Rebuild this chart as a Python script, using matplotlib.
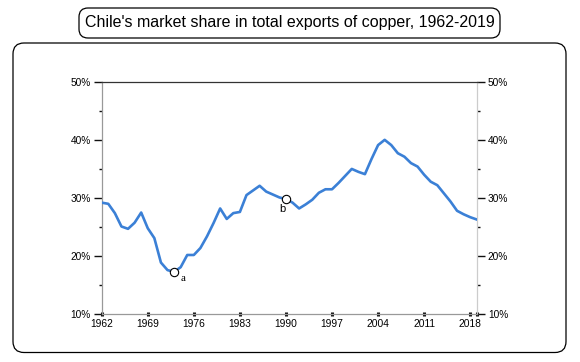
import matplotlib
matplotlib.use("Agg")
import matplotlib.pyplot as plt
from matplotlib.patches import FancyBboxPatch
from matplotlib.transforms import IdentityTransform

years = list(range(1962, 2020))
share = [29.2, 29.0, 27.4, 25.1, 24.7, 25.75, 27.5, 24.8, 23.1, 18.9,
         17.6, 17.3, 18.1, 20.2, 20.2, 21.4, 23.4, 25.7, 28.2, 26.4,
         27.4, 27.6, 30.5, 31.3, 32.1, 31.1, 30.6, 30.1, 29.8, 29.2,
         28.2, 28.9, 29.7, 30.9, 31.5, 31.5, 32.6, 33.8, 35.0, 34.5,
         34.1, 36.7, 39.1, 40.0, 39.1, 37.7, 37.1, 36.0, 35.4, 34.0,
         32.8, 32.2, 30.8, 29.4, 27.8, 27.2, 26.7, 26.3]
xtick_years = [1962, 1969, 1976, 1983, 1990, 1997, 2004, 2011, 2018]
ytick_vals = [10, 20, 30, 40, 50]
ytick_labels = ["10%", "20%", "30%", "40%", "50%"]
notes = [(1973, "a"), (1990, "b")]
title = "Chile's market share in total exports of copper, 1962-2019"

plt.rcParams['font.family'] = ['Liberation Sans', 'DejaVu Sans']

W, H = 580, 362
fig = plt.figure(figsize=(W/100, H/100), dpi=100)
ax = fig.add_axes([101.7/W, 1-314.3/H, (476.8-101.7)/W, (314.3-81.7)/H])

ax.plot(years, share, color="#3b80d6", lw=1.9, solid_joinstyle="round", zorder=3)
for yr, lab in notes:
    v = share[years.index(yr)]
    ax.plot([yr], [v], marker="o", ms=6, mfc="white", mec="black", mew=0.8, zorder=4)
    if lab == "a":
        ax.annotate(lab, (yr, v), xytext=(6.2, -4.8), textcoords="offset points",
                    fontsize=8, family="Liberation Serif", ha="center", va="center")
    else:
        ax.annotate(lab, (yr, v), xytext=(-2.6, -7), textcoords="offset points",
                    fontsize=8, ha="center", va="center")

ax.set_xlim(1962, 2019)
ax.set_ylim(10, 50)

# spines
ax.spines["left"].set_color("#999999")
ax.spines["bottom"].set_color("#999999")
ax.spines["right"].set_color("#cccccc")
ax.spines["top"].set_color("#333333")
for s in ax.spines.values():
    s.set_linewidth(0.9)

# x ticks
ax.set_xticks(xtick_years + [2019])
ax.set_xticklabels([str(y) for y in xtick_years] + [""])
ax.tick_params(axis="x", direction="inout", length=2.5, width=2.2, color="#111111",
               labelsize=7.4, pad=2.3)

# y ticks both sides
ax.set_yticks(ytick_vals)
ax.set_yticklabels(ytick_labels)
ax.set_yticks([15, 25, 35, 45], minor=True)
ax.tick_params(axis="y", which="major", left=True, right=True, labelleft=True,
               labelright=True, length=6, width=1.0, color="#111111", labelsize=7.3, pad=2)
ax.tick_params(axis="y", which="minor", left=True, right=True, length=2.5, width=1.0,
               color="#111111")

left_major = ["#111111", "#111111", "#111111", "#dddddd", "#333333"]
right_major = ["#999999", "#111111", "#111111", "#dddddd", "#dddddd"]
for t, cl, cr in zip(ax.yaxis.get_major_ticks(), left_major, right_major):
    t.tick1line.set_color(cl)
    t.tick2line.set_color(cr)
right_minor = ["#111111", "#111111", "#999999", "#999999"]
for t, cr in zip(ax.yaxis.get_minor_ticks(), right_minor):
    t.tick2line.set_color(cr)

# outer frame and title box (pixel coordinates, origin bottom-left)
frame = FancyBboxPatch((13, H-352.5), 553, 309.5, boxstyle="round,pad=0,rounding_size=11",
                       transform=IdentityTransform(), fill=False, ec="black", lw=0.9)
fig.patches.append(frame)
tbox = FancyBboxPatch((79, H-38), 421, 30, boxstyle="round,pad=0,rounding_size=9",
                      transform=IdentityTransform(), fill=False, ec="black", lw=0.9)
fig.patches.append(tbox)
fig.text(289.5/W, 1-22.5/H, title, ha="center", va="center", fontsize=11.5)

fig.savefig("out.png", dpi=100)
